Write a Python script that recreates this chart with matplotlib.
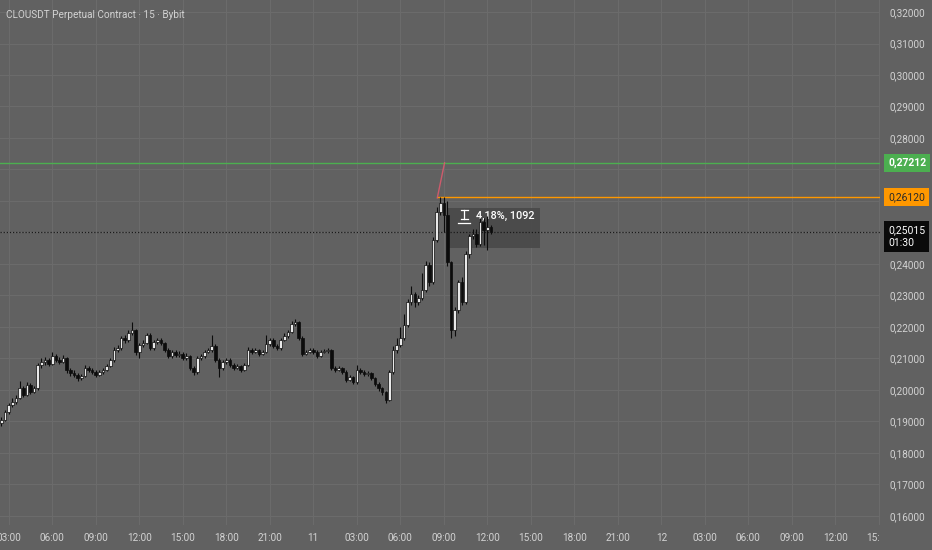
import matplotlib
matplotlib.use("Agg")
import matplotlib.pyplot as plt
from matplotlib.patches import Rectangle
from matplotlib.transforms import Bbox, TransformedBbox

# 15-minute candles, CLOUSDT, from 02:30 (day 10) to 12:15 (day 11)
first_open = 0.1895
closes = [
    0.1905, 0.1930, 0.1952, 0.1962, 0.1975, 0.2006, 0.1984, 0.2016, 0.1994, 0.2006,
    0.2079, 0.2089, 0.2095, 0.2083, 0.2108, 0.2095, 0.2089, 0.2102, 0.2064, 0.2054,
    0.2048, 0.2038, 0.2044, 0.2070, 0.2064, 0.2057, 0.2048, 0.2057, 0.2064, 0.2076,
    0.2095, 0.2127, 0.2133, 0.2165, 0.2159, 0.2181, 0.2190, 0.2121, 0.2143, 0.2149,
    0.2175, 0.2133, 0.2152, 0.2159, 0.2149, 0.2127, 0.2108, 0.2121, 0.2111, 0.2114,
    0.2102, 0.2108, 0.2070, 0.2057, 0.2102, 0.2108, 0.2121, 0.2127, 0.2140, 0.2095,
    0.2070, 0.2089, 0.2095, 0.2079, 0.2070, 0.2076, 0.2064, 0.2079, 0.2127, 0.2121,
    0.2127, 0.2114, 0.2121, 0.2146, 0.2159, 0.2140, 0.2133, 0.2159, 0.2171, 0.2184,
    0.2210, 0.2216, 0.2165, 0.2114, 0.2121, 0.2127, 0.2121, 0.2108, 0.2121, 0.2124,
    0.2127, 0.2070, 0.2064, 0.2070, 0.2057, 0.2032, 0.2041, 0.2025, 0.2064, 0.2057,
    0.2051, 0.2054, 0.2038, 0.2019, 0.2006, 0.1994, 0.1968, 0.2057, 0.2127, 0.2143,
    0.2165, 0.2206, 0.2279, 0.2305, 0.2279, 0.2292, 0.2317, 0.2397, 0.2343, 0.2476,
    0.2565, 0.2594, 0.2556, 0.2406, 0.2190, 0.2254, 0.2343, 0.2279, 0.2432, 0.2489,
    0.2495, 0.2463, 0.2533, 0.2508, 0.2516, 0.25015,
]
highs = [
    0.1915, 0.1938, 0.1960, 0.1975, 0.1985, 0.2030, 0.2012, 0.2025, 0.2022, 0.2012,
    0.2085, 0.2100, 0.2105, 0.2102, 0.2122, 0.2113, 0.2105, 0.2110, 0.2106, 0.2070,
    0.2062, 0.2055, 0.2052, 0.2078, 0.2076, 0.2070, 0.2062, 0.2065, 0.2070, 0.2082,
    0.2102, 0.2135, 0.2142, 0.2172, 0.2175, 0.2190, 0.2215, 0.2195, 0.2150, 0.2158,
    0.2182, 0.2180, 0.2160, 0.2166, 0.2165, 0.2153, 0.2132, 0.2128, 0.2126, 0.2124,
    0.2120, 0.2116, 0.2112, 0.2075, 0.2108, 0.2115, 0.2128, 0.2134, 0.2175, 0.2146,
    0.2100, 0.2095, 0.2102, 0.2100, 0.2085, 0.2082, 0.2080, 0.2085, 0.2135, 0.2133,
    0.2134, 0.2131, 0.2128, 0.2175, 0.2166, 0.2164, 0.2146, 0.2165, 0.2180, 0.2190,
    0.2218, 0.2225, 0.2220, 0.2170, 0.2128, 0.2133, 0.2132, 0.2126, 0.2127, 0.2131,
    0.2134, 0.2131, 0.2076, 0.2077, 0.2074, 0.2062, 0.2048, 0.2046, 0.2078, 0.2070,
    0.2062, 0.2060, 0.2058, 0.2042, 0.2024, 0.2010, 0.1998, 0.2064, 0.2140, 0.2165,
    0.2200, 0.2240, 0.2290, 0.2330, 0.2310, 0.2300, 0.2370, 0.2410, 0.2405, 0.2485,
    0.2580, 0.2612, 0.2612, 0.2600, 0.2410, 0.2262, 0.2350, 0.2360, 0.2440, 0.2495,
    0.2512, 0.2510, 0.2545, 0.2545, 0.2552, 0.2525,
]
lows = [
    0.1885, 0.1900, 0.1925, 0.1945, 0.1955, 0.1970, 0.1978, 0.1980, 0.1988, 0.1990,
    0.2000, 0.2070, 0.2080, 0.2075, 0.2078, 0.2088, 0.2082, 0.2085, 0.2055, 0.2045,
    0.2040, 0.2030, 0.2032, 0.2040, 0.2056, 0.2050, 0.2042, 0.2044, 0.2052, 0.2060,
    0.2072, 0.2090, 0.2120, 0.2128, 0.2150, 0.2152, 0.2175, 0.2112, 0.2100, 0.2138,
    0.2145, 0.2128, 0.2128, 0.2146, 0.2142, 0.2120, 0.2100, 0.2102, 0.2104, 0.2106,
    0.2096, 0.2096, 0.2064, 0.2048, 0.2052, 0.2096, 0.2102, 0.2116, 0.2122, 0.2090,
    0.2042, 0.2064, 0.2084, 0.2072, 0.2064, 0.2066, 0.2058, 0.2060, 0.2075, 0.2115,
    0.2116, 0.2108, 0.2110, 0.2118, 0.2140, 0.2134, 0.2126, 0.2128, 0.2155, 0.2166,
    0.2180, 0.2204, 0.2160, 0.2108, 0.2110, 0.2116, 0.2115, 0.2102, 0.2104, 0.2117,
    0.2119, 0.2064, 0.2057, 0.2059, 0.2050, 0.2025, 0.2027, 0.2018, 0.2020, 0.2050,
    0.2045, 0.2046, 0.2032, 0.2012, 0.1998, 0.1985, 0.1960, 0.1964, 0.2050, 0.2118,
    0.2138, 0.2158, 0.2200, 0.2270, 0.2265, 0.2270, 0.2285, 0.2310, 0.2330, 0.2335,
    0.2470, 0.2555, 0.2500, 0.2395, 0.2165, 0.2170, 0.2245, 0.2270, 0.2272, 0.2420,
    0.2480, 0.2455, 0.2458, 0.2460, 0.2445, 0.2495,
]
opens = [first_open] + closes[:-1]

price_ticks = [0.16, 0.17, 0.18, 0.19, 0.20, 0.21, 0.22, 0.23, 0.24,
               0.25, 0.26, 0.27, 0.28, 0.29, 0.30, 0.31, 0.32]
hidden_ticks = [0.25, 0.26, 0.27]   # covered by the price badges
time_labels = ["03:00", "06:00", "09:00", "12:00", "15:00", "18:00", "21:00", "11",
               "03:00", "06:00", "09:00", "12:00", "15:00", "18:00", "21:00", "12",
               "03:00", "06:00", "09:00", "12:00", "15:00"]
first_label_idx = 2      # 03:00 is the third candle
candles_per_label = 12   # 3 hours of 15m candles

take_profit = 0.27212
entry = 0.26120
last_price = 0.25015
countdown = "01:30"
measure_text = "4,18%, 1092"
title = "CLOUSDT Perpetual Contract · 15 · Bybit"

bg = "#616161"
grid_c = "#6c6c6c"
txt_c = "#d2d2d2"


def fmt(p):
    return f"{p:.5f}".replace(".", ",")


plt.rcParams['font.family'] = ['Roboto', 'DejaVu Sans']

fig = plt.figure(figsize=(9.32, 5.5), dpi=100, facecolor=bg)
ax = fig.add_axes([0, 25 / 550, 880 / 932, 525 / 550])
ax.set_facecolor(bg)

idx = list(range(len(closes)))
ax.set_xlim(-0.41, 242.3)
ax.set_ylim(0.15714, 0.32381)

# grid and scales
xt = [first_label_idx + candles_per_label * k for k in range(len(time_labels))]
ax.set_xticks(xt)
ax.set_xticklabels(time_labels)
ax.set_yticks(price_ticks)
ax.set_yticklabels(["" if any(abs(p - h) < 1e-9 for h in hidden_ticks) else fmt(p)
                    for p in price_ticks])
ax.yaxis.tick_right()
ax.grid(True, color=grid_c, lw=0.7, zorder=0)
ax.set_axisbelow(True)
ax.tick_params(axis='both', length=0, colors=txt_c, labelsize=7.2)
ax.tick_params(axis='y', pad=7)
ax.tick_params(axis='x', pad=6)
for s in ax.spines.values():
    s.set_visible(False)

# clip bottom labels at the price scale
clip = TransformedBbox(Bbox([[0, 0], [880 / 932, 1]]), fig.transFigure)
for lab in ax.get_xticklabels():
    lab.set_clip_box(clip)
    lab.set_clip_on(True)

# measure tooltip (behind candles)
ax.add_patch(Rectangle((122.9, 0.24508), 25.7, 0.0127, facecolor="#494949",
                       edgecolor="none", alpha=0.9, zorder=1))
ax.plot([126.6, 128.6], [0.2573, 0.2573], color="white", lw=0.9, zorder=1.5)
ax.plot([126.6, 128.6], [0.2543, 0.2543], color="white", lw=0.9, zorder=1.5)
ax.plot([127.6, 127.6], [0.2543, 0.2573], color="white", lw=0.9, zorder=1.5)
ax.plot([126.0, 129.2], [0.2530, 0.2530], color="white", lw=0.9, zorder=1.5)
ax.text(131.0, 0.2552, measure_text, color="white", fontsize=7.8,
        fontweight="medium", va="center", ha="left", zorder=1.5)

# level lines
ax.axhline(take_profit, color="#4caf50", lw=1, zorder=2)
ax.hlines(entry, 120.2, 242.3, color="#ff9800", lw=1, zorder=2)
ax.axhline(last_price, color="#1a1a1a", lw=0.9, ls=(0, (1, 1.5)), zorder=2)
ax.plot([120.2, 122.2], [0.2610, take_profit], color="#e05a6e", lw=1, alpha=0.85, zorder=2)

# candles
up_c = "#e8e8e8"
dn_c = "#0c0c0c"
ax.vlines(idx, lows, highs, color="#0c0c0c", lw=0.8, zorder=3)
bottoms = [min(o, c) for o, c in zip(opens, closes)]
heights = [max(abs(c - o), 0.00025) for o, c in zip(opens, closes)]
colors = [up_c if c >= o else dn_c for o, c in zip(opens, closes)]
ax.bar(idx, heights, bottom=bottoms, width=0.72, color=colors,
       edgecolor="#0c0c0c", linewidth=0.5, zorder=4)

# price scale badges
yt = ax.get_yaxis_transform()
badge = dict(transform=yt, fontsize=7.5, va="center", ha="left", clip_on=False, zorder=10)
ax.text(1.0095, take_profit, fmt(take_profit), color="white", fontweight="bold",
        bbox=dict(boxstyle="square,pad=0.38", fc="#4caf50", ec="none"), **badge)
ax.text(1.0095, entry, fmt(entry), color="#2a2a2a",
        bbox=dict(boxstyle="square,pad=0.38", fc="#ff9800", ec="none"), **badge)
ax.text(1.0095, last_price - 0.0014, fmt(last_price) + "\n" + countdown,
        color="white", linespacing=1.3,
        bbox=dict(boxstyle="square,pad=0.38", fc="#0a0a0a", ec="none"), **badge)

fig.text(6 / 932, 1 - 15 / 550, title, color=txt_c, fontsize=7.2, va="center", ha="left")

fig.savefig("out.png", dpi=100, facecolor=bg)
